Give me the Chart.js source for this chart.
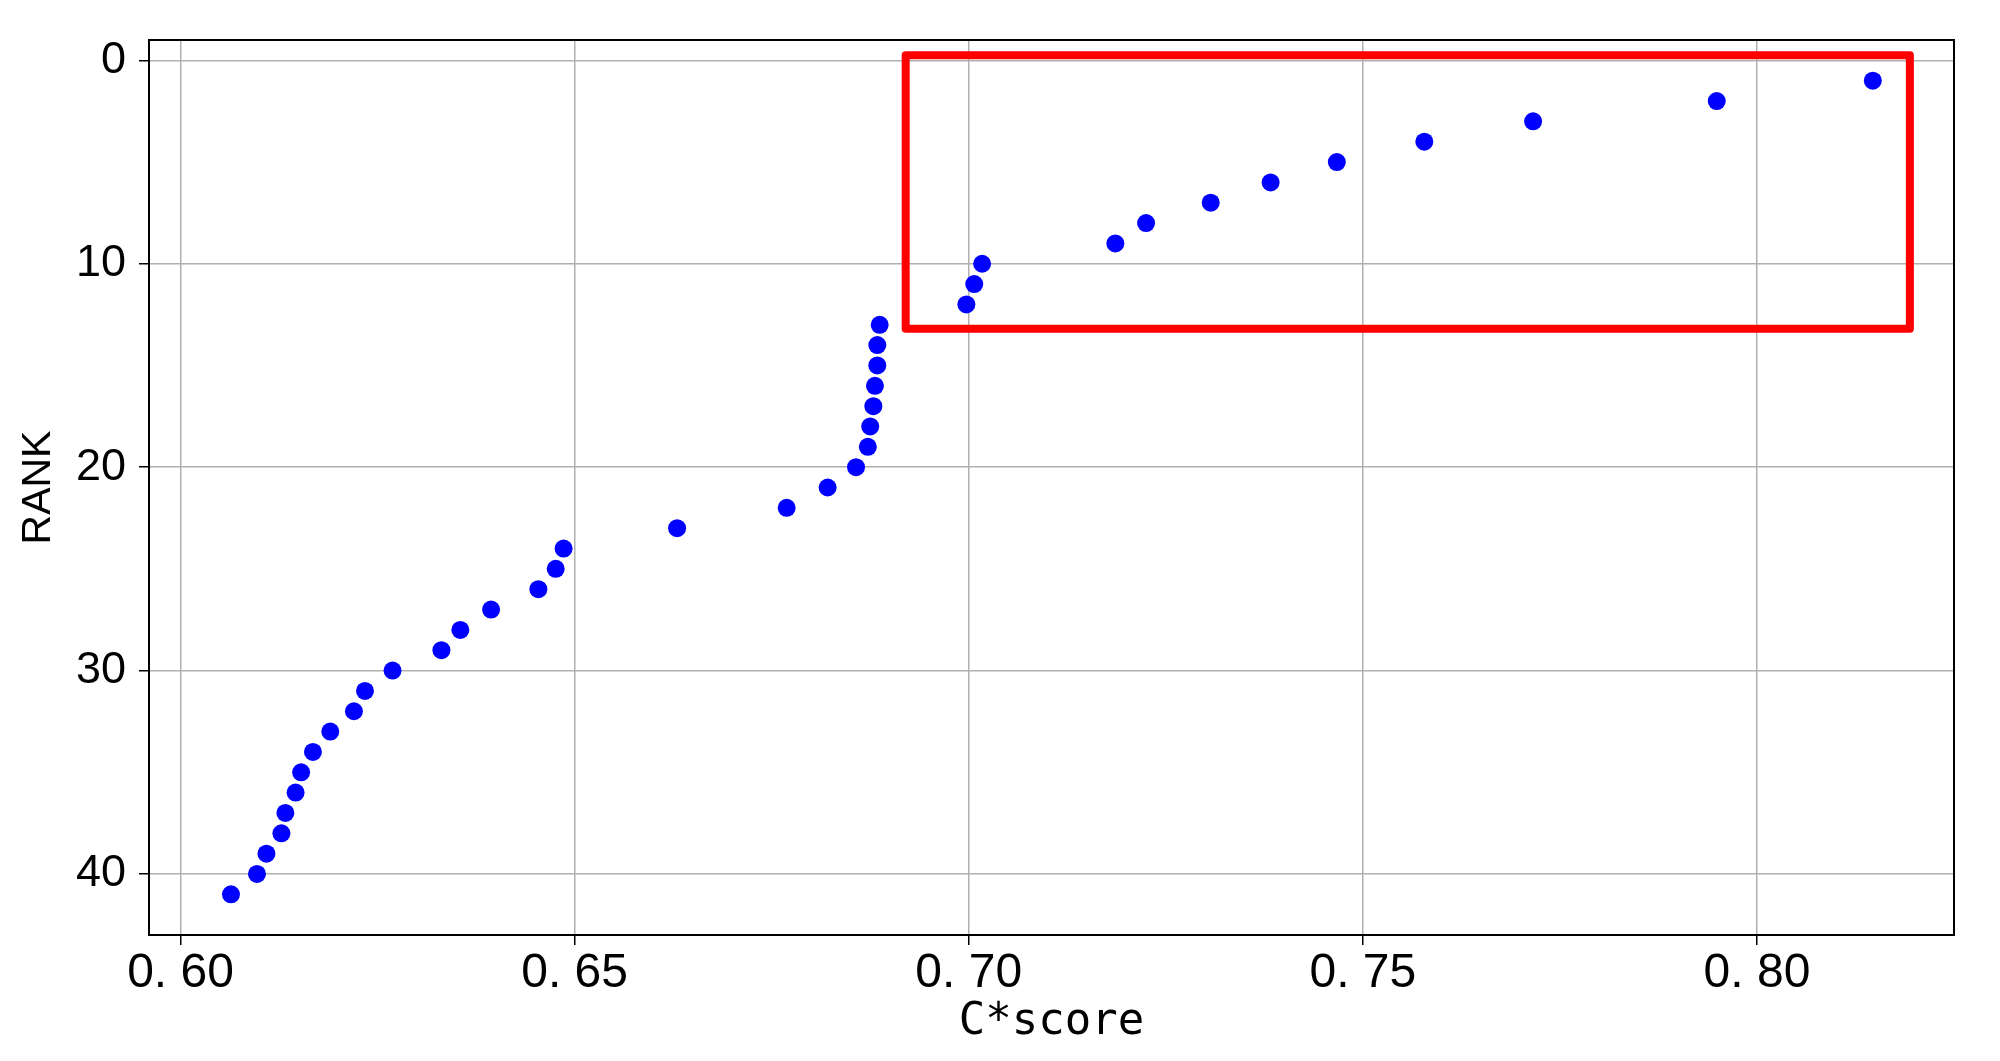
<!DOCTYPE html>
<html lang="zh">
<head>
    <meta charset="UTF-8">
    <title>C*score - RANK</title>
    <!-- Chart.js -->
    <script src="https://cdn.jsdelivr.net/npm/chart.js"></script>
    <style>
        html, body { margin: 0; padding: 0; background: #fff; }
        #wrap { width: 2000px; height: 1061px; }
    </style>
</head>
<body>
<div id="wrap">
    <canvas id="rankChart" width="2000" height="1061"></canvas>
</div>

<script>
    // Dati
    const ranks = [1, 2, 3, 4, 5, 6, 7, 8, 9, 10,
                   11, 12, 13, 14, 15, 16, 17, 18, 19, 20,
                   21, 22, 23, 24, 25, 26, 27, 28, 29, 30,
                   31, 32, 33, 34, 35, 36, 37, 38, 39, 40, 41];
    const scores = [0.8147, 0.7949, 0.7716, 0.7578, 0.7467, 0.7383, 0.7307, 0.7225, 0.7186, 0.7017,
                    0.7007, 0.6997, 0.6887, 0.6884, 0.6884, 0.6881, 0.6879, 0.6875, 0.6872, 0.6857,
                    0.6821, 0.6769, 0.6630, 0.6486, 0.6476, 0.6454, 0.6394, 0.6355, 0.6331, 0.6269,
                    0.6234, 0.6220, 0.6190, 0.6168, 0.6153, 0.6146, 0.6133, 0.6128, 0.6109, 0.6097, 0.6064];

    const xTicks = [0.60, 0.65, 0.70, 0.75, 0.80];
    const xTickLabels = ['0. 60', '0. 65', '0. 70', '0. 75', '0. 80'];
    const yTicks = [0, 10, 20, 30, 40];

    // riquadro rosso (in unita' dei dati)
    const boxX = [0.6920, 0.8194];
    const boxY = [-0.25, 13.2];

    const points = ranks.map((r, i) => ({ x: scores[i], y: r }));

    // cornice nera + riquadro rosso
    const framePlugin = {
        id: 'frame',
        beforeDatasetsDraw(chart) {
            const a = chart.chartArea;
            const ctx = chart.ctx;
            ctx.save();
            ctx.strokeStyle = '#000';
            ctx.lineWidth = 2;
            ctx.strokeRect(a.left, a.top, a.right - a.left, a.bottom - a.top);
            ctx.restore();
        },
        afterDatasetsDraw(chart) {
            const xs = chart.scales.x, ys = chart.scales.y;
            const x0 = xs.getPixelForValue(boxX[0]), x1 = xs.getPixelForValue(boxX[1]);
            const y0 = ys.getPixelForValue(boxY[0]), y1 = ys.getPixelForValue(boxY[1]);
            const ctx = chart.ctx;
            ctx.save();
            ctx.strokeStyle = '#ff0000';
            ctx.lineWidth = 8;
            ctx.lineJoin = 'round';
            ctx.strokeRect(x0, y0, x1 - x0, y1 - y0);
            ctx.restore();
        }
    };

    const ctx = document.getElementById('rankChart').getContext('2d');
    const rankChart = new Chart(ctx, {
        type: 'scatter',
        data: {
            datasets: [{
                label: 'RANK',
                data: points,
                backgroundColor: '#0000ff',
                borderWidth: 0,
                pointRadius: 9,
                pointHoverRadius: 9
            }]
        },
        options: {
            responsive: false,
            animation: false,
            layout: {
                padding: { left: 10, right: 46, top: 38, bottom: 0 }
            },
            plugins: {
                legend: { display: false },
                tooltip: { enabled: false }
            },
            scales: {
                x: {
                    type: 'linear',
                    min: 0.5960,
                    max: 0.8250,
                    afterBuildTicks: (s) => { s.ticks = xTicks.map(v => ({ value: v })); },
                    afterFit: (s) => { s.height = 126; s.paddingLeft = 0; s.paddingRight = 0; },
                    border: { display: false },
                    grid: {
                        color: '#b0b0b0',
                        lineWidth: 1.5,
                        tickColor: '#000',
                        tickLength: 10,
                        tickWidth: 1.5
                    },
                    ticks: {
                        color: '#000',
                        padding: 0,
                        maxRotation: 0,
                        font: { family: '"Liberation Sans", Arial, sans-serif', size: 48 },
                        callback: (v, i) => xTickLabels[i]
                    },
                    title: {
                        display: true,
                        text: 'C*score',
                        color: '#000',
                        padding: { top: 0, bottom: 12 },
                        font: { family: '"DejaVu Sans Mono", "Liberation Mono", monospace', size: 44 }
                    }
                },
                y: {
                    type: 'linear',
                    reverse: true,
                    min: -1,
                    max: 43,
                    afterBuildTicks: (s) => { s.ticks = yTicks.map(v => ({ value: v })); },
                    afterFit: (s) => { s.width = 139; },
                    border: { display: false },
                    grid: {
                        color: '#b0b0b0',
                        lineWidth: 1.5,
                        tickColor: '#000',
                        tickLength: 10,
                        tickWidth: 1.5
                    },
                    ticks: {
                        color: '#000',
                        padding: 13,
                        font: { family: '"Liberation Sans", Arial, sans-serif', size: 45 }
                    },
                    title: {
                        display: true,
                        text: 'RANK',
                        color: '#000',
                        padding: { top: 4, bottom: 0 },
                        font: { family: '"Liberation Sans Narrow", "Liberation Sans", Arial, sans-serif', size: 41 }
                    }
                }
            }
        },
        plugins: [framePlugin]
    });
</script>
</body>
</html>
